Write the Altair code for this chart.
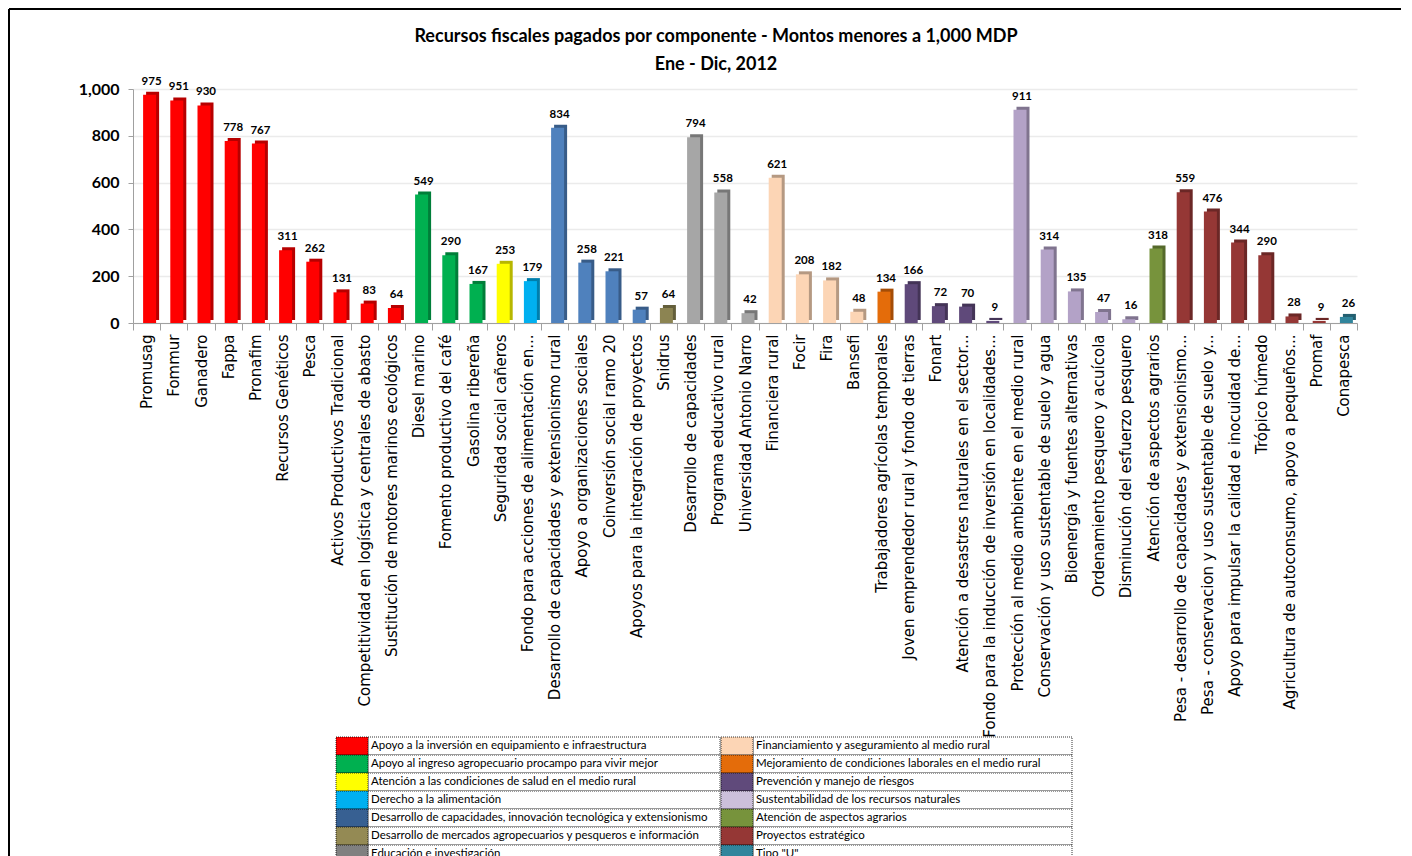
import altair as alt
import pandas as pd

# ---------------- data ----------------
componentes = [
    "Promusag", "Fommur", "Ganadero", "Fappa", "Pronafim", "Recursos Genéticos", "Pesca",
    "Activos Productivos Tradicional", "Competitividad en logística y centrales de abasto",
    "Sustitución de motores marinos ecológicos", "Diesel marino", "Fomento productivo del café",
    "Gasolina ribereña", "Seguridad social cañeros", "Fondo para acciones de alimentación en...",
    "Desarrollo de capacidades y extensionismo rural", "Apoyo a organizaciones sociales",
    "Coinversión social ramo 20", "Apoyos para la integración de proyectos", "Snidrus",
    "Desarrollo de capacidades", "Programa educativo rural", "Universidad Antonio Narro",
    "Financiera rural", "Focir", "Fira", "Bansefi", "Trabajadores agrícolas temporales",
    "Joven emprendedor rural y fondo de tierras", "Fonart",
    "Atención a desastres naturales en el sector...",
    "Fondo para la inducción de inversión en localidades...",
    "Protección al medio ambiente en el medio rural",
    "Conservación y uso sustentable de suelo y agua", "Bioenergía y fuentes alternativas",
    "Ordenamiento pesquero y acuícola", "Disminución del esfuerzo pesquero",
    "Atención de aspectos agrarios", "Pesa - desarrollo de capacidades y extensionismo...",
    "Pesa - conservacion y uso sustentable de suelo y...",
    "Apoyo para impulsar la calidad e inocuidad de...", "Trópico húmedo",
    "Agricultura de autoconsumo, apoyo a pequeños...", "Promaf", "Conapesca",
]
montos = [975, 951, 930, 778, 767, 311, 262, 131, 83, 64, 549, 290, 167, 253, 179,
          834, 258, 221, 57, 64, 794, 558, 42, 621, 208, 182, 48, 134, 166, 72, 70, 9,
          911, 314, 135, 47, 16, 318, 559, 476, 344, 290, 28, 9, 26]
grupo = [0, 0, 0, 0, 0, 0, 0, 0, 0, 0, 1, 1, 1, 2, 3,
         4, 4, 4, 4, 5, 6, 6, 6, 7, 7, 7, 7, 8, 9, 9, 9, 9,
         10, 10, 10, 10, 10, 11, 12, 12, 12, 12, 12, 12, 13]

categorias = [
    "Apoyo a la inversión en equipamiento e infraestructura",
    "Apoyo al ingreso agropecuario procampo para vivir mejor",
    "Atención a las condiciones de salud en el medio rural",
    "Derecho a la alimentación",
    "Desarrollo de capacidades, innovación tecnológica y extensionismo",
    "Desarrollo de mercados agropecuarios y pesqueros e información",
    " Educación e investigación",
    " Financiamiento y aseguramiento al medio rural",
    " Mejoramiento de condiciones laborales en el medio rural",
    " Prevención y manejo de riesgos",
    " Sustentabilidad de los recursos naturales",
    "Atención de aspectos agrarios",
    "Proyectos estratégico",
    'Tipo "U"',
]
colores_barra = ["#FF0000", "#00B050", "#FFFF00", "#00B0F0", "#4F81BD", "#8C8452", "#A6A6A6",
                 "#FCD5B5", "#E46C0A", "#5F497A", "#B3A2C7", "#77933C", "#953735", "#31859C"]
colores_leyenda = ["#FF0000", "#00B050", "#FFFF00", "#00B0F0", "#376092", "#948A54", "#808080",
                   "#FCD5B5", "#E46C0A", "#604A7B", "#CCC0DA", "#77933C", "#953735", "#31859C"]

titulo1 = "Recursos fiscales pagados por componente - Montos menores a 1,000 MDP"
titulo2 = "Ene - Dic, 2012"


def oscurecer(h, f=0.72):
    r, g, b = int(h[1:3], 16), int(h[3:5], 16), int(h[5:7], 16)
    return "#%02X%02X%02X" % (int(r * f), int(g * f), int(b * f))


CAL = "Lato, Roboto, sans-serif"

df = pd.DataFrame({
    "componente": componentes,
    "monto": montos,
    "color": [colores_barra[g] for g in grupo],
    "sombra": [oscurecer(colores_barra[g]) for g in grupo],
})

W, H = 1224, 234

x_enc = alt.X("componente:N", sort=componentes, title=None,
              scale=alt.Scale(paddingInner=0, paddingOuter=0),
              axis=alt.Axis(labelAngle=-90, labelFont="DejaVu Sans", labelFontSize=15,
                            labelColor="black", labelLimit=600, labelPadding=4,
                            tickBand="extent", tickSize=7, tickColor="#A0A0A0",
                            domainColor="#A0A0A0", grid=False))
y_enc = alt.Y("monto:Q", title=None, scale=alt.Scale(domain=[0, 1000]),
              axis=alt.Axis(values=[0, 200, 400, 600, 800, 1000], format=",d",
                            labelFont=CAL, labelFontSize=16, labelFontWeight="bold",
                            labelColor="black", labelPadding=9, tickSize=5,
                            tickColor="#A0A0A0", domainColor="#A0A0A0",
                            gridColor="#EBEBEB", gridWidth=1.5))

base = alt.Chart(df)
sombra = base.mark_bar(width=13, xOffset=6, yOffset=-3).encode(
    x=x_enc, y=y_enc, fill=alt.Fill("sombra:N", scale=None))
frente = base.mark_bar(width=13, xOffset=3).encode(
    x=x_enc, y=y_enc, fill=alt.Fill("color:N", scale=None))
etiquetas = base.mark_text(xOffset=5, dy=-8, baseline="bottom", font=CAL,
                           fontSize=11.5, fontWeight="bold", color="black").encode(
    x=x_enc, y=y_enc, text=alt.Text("monto:Q", format=",d"))
barras = alt.layer(sombra, frente, etiquetas)

# ---------------- legend (table) ----------------
leg = pd.DataFrame({
    "etiqueta": categorias,
    "color": colores_leyenda,
    "columna": [0] * 7 + [1] * 7,
    "fila": list(range(7)) * 2,
})
y_leg = alt.Y("fila:O", axis=None,
              scale=alt.Scale(range=[648, 774], paddingInner=0, paddingOuter=0))
dash = dict(stroke="black", strokeDash=[1, 1], strokeWidth=0.8)
capas_leyenda = []
for col, (xs0, xs1, xl1) in enumerate([(203, 235, 587), (588, 620, 939)]):
    sub = alt.Chart(leg[leg["columna"] == col])
    capas_leyenda.append(sub.mark_rect(fill="white", **dash).encode(
        x=alt.value(xs1), x2=alt.value(xl1), y=y_leg))
    capas_leyenda.append(sub.mark_rect(**dash).encode(
        x=alt.value(xs0), x2=alt.value(xs1), y=y_leg, fill=alt.Fill("color:N", scale=None)))
    capas_leyenda.append(sub.mark_text(align="left", baseline="middle", font=CAL,
                                       fontSize=11.5, color="black").encode(
        x=alt.value(xs1 + 3), y=y_leg, text="etiqueta:N"))
leyenda = alt.layer(*capas_leyenda)

# ---------------- frame & title ----------------
uno = pd.DataFrame({"k": [0]})
marco_v = alt.Chart(uno).mark_rule(color="black", strokeWidth=2).encode(
    x=alt.value(-124), y=alt.value(-80), y2=alt.value(791))
marco_h = alt.Chart(uno).mark_rule(color="black", strokeWidth=2).encode(
    x=alt.value(-124), x2=alt.value(1268), y=alt.value(-80))
t1 = alt.Chart(uno).mark_text(text=titulo1, font=CAL, fontSize=18, fontWeight="bold",
                              color="black", baseline="middle").encode(
    x=alt.value(583), y=alt.value(-52))
t2 = alt.Chart(uno).mark_text(text=titulo2, font=CAL, fontSize=18, fontWeight="bold",
                              color="black", baseline="middle").encode(
    x=alt.value(583), y=alt.value(-24))

chart = alt.layer(marco_v, marco_h, t1, t2, barras, leyenda).resolve_scale(
    x="independent", y="independent"
).properties(width=W, height=H, padding=0, background="white").configure_view(stroke=None)

chart.save("out.html", embed_options={"renderer": "svg", "actions": False})
